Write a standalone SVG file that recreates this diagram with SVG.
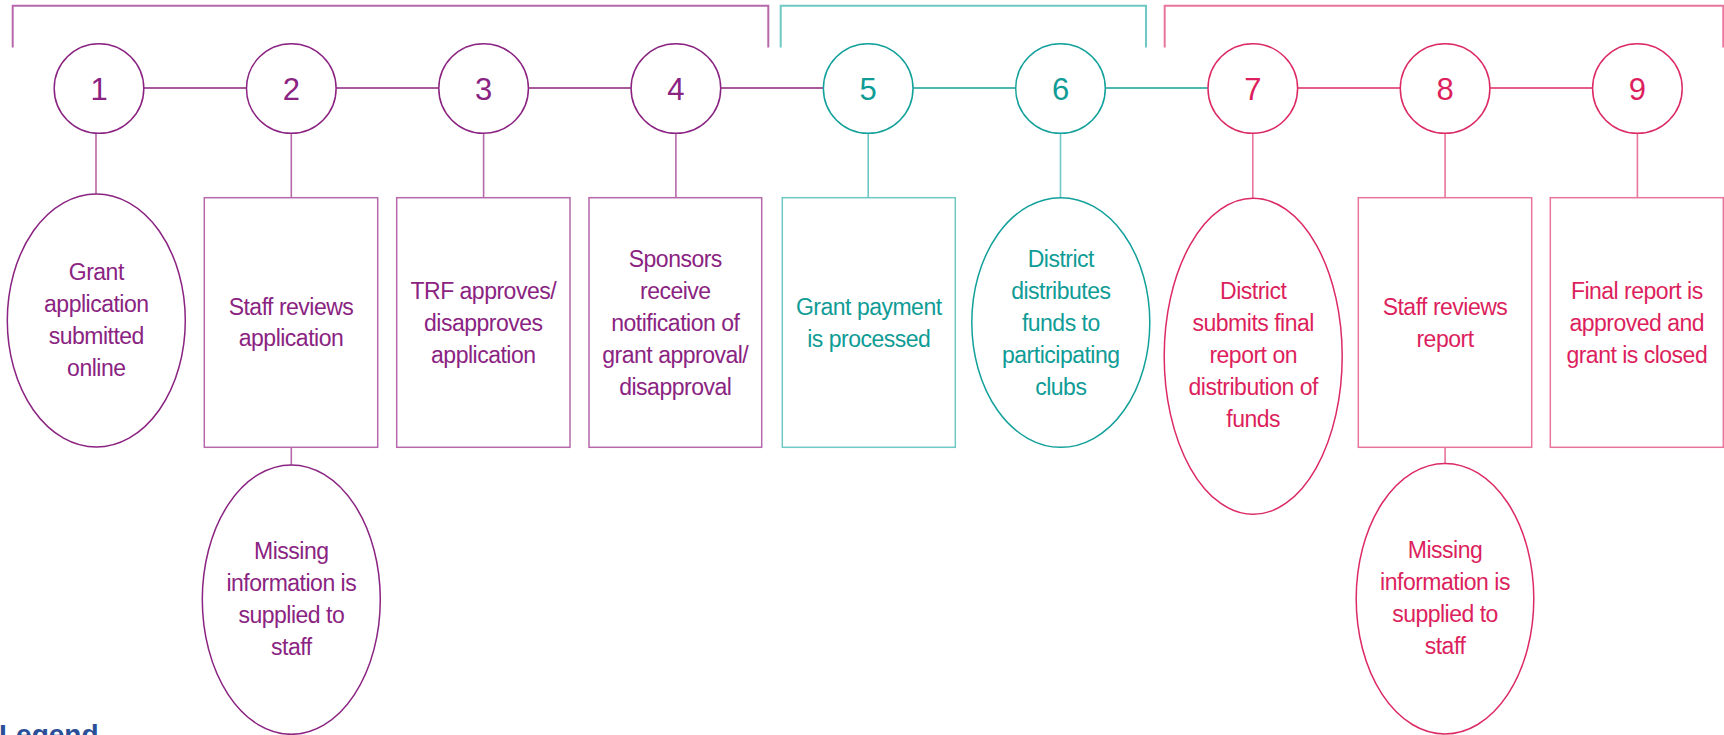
<svg xmlns="http://www.w3.org/2000/svg" width="1724" height="735" viewBox="0 0 1724 735">
<style>
text{font-family:"Liberation Sans",Arial,sans-serif;text-anchor:middle}
.t{font-size:23px;letter-spacing:-0.5px}
.n{font-size:31px}
.p{fill:#8a2381}.pl{stroke:#b768ab}.pd{stroke:#8a2381}
.g{fill:#0f9c96}.gl{stroke:#6ec8c4}.gd{stroke:#12a09a}
.r{fill:#dc1f5d}.rl{stroke:#e8759b}.rd{stroke:#dc2a63}
.sh{fill:#fff;stroke-width:1.5}
.ln{fill:none;stroke-width:1.6}
.br{fill:none;stroke-width:2}
</style>
<rect width="1724" height="735" fill="#fff"/>
<g id="brackets">
<path class="br pl" d="M12.7,47.5V5.7H768.3V47.5"/>
<path class="br gl" d="M780.7,47.5V5.7H1146V47.5"/>
<path class="br rl" d="M1164.7,47.5V5.7H1723.3V47.5"/>
</g>
<g id="connectors">
<path class="ln pd" d="M144,88H246.6M336,88H438.9M528.3,88H631.2M720.6,88H823.5"/>
<path class="ln gd" d="M912.9,88H1015.8M1105.2,88H1208.1"/>
<path class="ln rd" d="M1297.5,88H1400.4M1489.8,88H1592.7"/>
<path class="ln pl" d="M96,133V194M291.3,133V197.7M483.6,133V197.7M675.9,133V197.7M291.3,447.3V465"/>
<path class="ln gl" d="M868.2,133V197.7M1060.5,133V197.7"/>
<path class="ln rl" d="M1252.8,133V198.3M1445.1,133V197.7M1637.4,133V197.7M1445.1,447.3V463.3"/>
</g>
<g id="node1">
<circle class="sh pd" cx="99" cy="88.5" r="44.8"/>
<text class="n p" x="99" y="99.5">1</text>
<ellipse class="sh pd" cx="96.3" cy="320.5" rx="89" ry="126.5"/>
<text class="t p" x="96.3" y="280">Grant<tspan x="96.3" dy="32">application</tspan><tspan x="96.3" dy="32">submitted</tspan><tspan x="96.3" dy="32">online</tspan></text>
</g>
<g id="node2">
<circle class="sh pd" cx="291.3" cy="88.5" r="44.8"/>
<text class="n p" x="291.3" y="99.5">2</text>
<rect class="sh pl" x="204.3" y="197.7" width="173.4" height="249.6"/>
<text class="t p" x="291" y="315">Staff reviews<tspan x="291" dy="31">application</tspan></text>
</g>
<g id="node2b">
<ellipse class="sh pd" cx="291.3" cy="599.6" rx="89" ry="134.7"/>
<text class="t p" x="291.3" y="559">Missing<tspan x="291.3" dy="32">information is</tspan><tspan x="291.3" dy="32">supplied to</tspan><tspan x="291.3" dy="32">staff</tspan></text>
</g>
<g id="node3">
<circle class="sh pd" cx="483.6" cy="88.5" r="44.8"/>
<text class="n p" x="483.6" y="99.5">3</text>
<rect class="sh pl" x="396.7" y="197.7" width="173.3" height="249.6"/>
<text class="t p" x="483.3" y="299">TRF approves/<tspan x="483.3" dy="32">disapproves</tspan><tspan x="483.3" dy="32">application</tspan></text>
</g>
<g id="node4">
<circle class="sh pd" cx="675.9" cy="88.5" r="44.8"/>
<text class="n p" x="675.9" y="99.5">4</text>
<rect class="sh pl" x="589" y="197.7" width="172.7" height="249.6"/>
<text class="t p" x="675.3" y="266.7">Sponsors<tspan x="675.3" dy="32">receive</tspan><tspan x="675.3" dy="32">notification of</tspan><tspan x="675.3" dy="32">grant approval/</tspan><tspan x="675.3" dy="32">disapproval</tspan></text>
</g>
<g id="node5">
<circle class="sh gd" cx="868.2" cy="88.5" r="44.8"/>
<text class="n g" x="868.2" y="99.5">5</text>
<rect class="sh gl" x="782.3" y="197.7" width="173" height="249.6"/>
<text class="t g" x="868.8" y="315">Grant payment<tspan x="868.8" dy="31.5">is processed</tspan></text>
</g>
<g id="node6">
<circle class="sh gd" cx="1060.5" cy="88.5" r="44.8"/>
<text class="n g" x="1060.5" y="99.5">6</text>
<ellipse class="sh gd" cx="1060.8" cy="322.5" rx="89" ry="124.8"/>
<text class="t g" x="1060.8" y="266.7">District<tspan x="1060.8" dy="32">distributes</tspan><tspan x="1060.8" dy="32">funds to</tspan><tspan x="1060.8" dy="32">participating</tspan><tspan x="1060.8" dy="32">clubs</tspan></text>
</g>
<g id="node7">
<circle class="sh rd" cx="1252.8" cy="88.5" r="44.8"/>
<text class="n r" x="1252.8" y="99.5">7</text>
<ellipse class="sh rd" cx="1253.2" cy="356.3" rx="89" ry="158"/>
<text class="t r" x="1253.2" y="299">District<tspan x="1253.2" dy="32">submits final</tspan><tspan x="1253.2" dy="32">report on</tspan><tspan x="1253.2" dy="32">distribution of</tspan><tspan x="1253.2" dy="32">funds</tspan></text>
</g>
<g id="node8">
<circle class="sh rd" cx="1445.1" cy="88.5" r="44.8"/>
<text class="n r" x="1445.1" y="99.5">8</text>
<rect class="sh rl" x="1358.3" y="197.7" width="173.4" height="249.6"/>
<text class="t r" x="1445" y="315">Staff reviews<tspan x="1445" dy="31.5">report</tspan></text>
</g>
<g id="node8b">
<ellipse class="sh rd" cx="1445" cy="598.7" rx="88.8" ry="135.3"/>
<text class="t r" x="1445" y="558.3">Missing<tspan x="1445" dy="32">information is</tspan><tspan x="1445" dy="32">supplied to</tspan><tspan x="1445" dy="32">staff</tspan></text>
</g>
<g id="node9">
<circle class="sh rd" cx="1637.4" cy="88.5" r="44.8"/>
<text class="n r" x="1637.4" y="99.5">9</text>
<rect class="sh rl" x="1550.3" y="197.7" width="173" height="249.6"/>
<text class="t r" x="1636.8" y="299">Final report is<tspan x="1636.8" dy="32">approved and</tspan><tspan x="1636.8" dy="32">grant is closed</tspan></text>
</g>
<g id="legend">
<text x="-1" y="744" style="font-size:28px;font-weight:bold;text-anchor:start;fill:#2a4f98">Legend</text>
</g>
</svg>
